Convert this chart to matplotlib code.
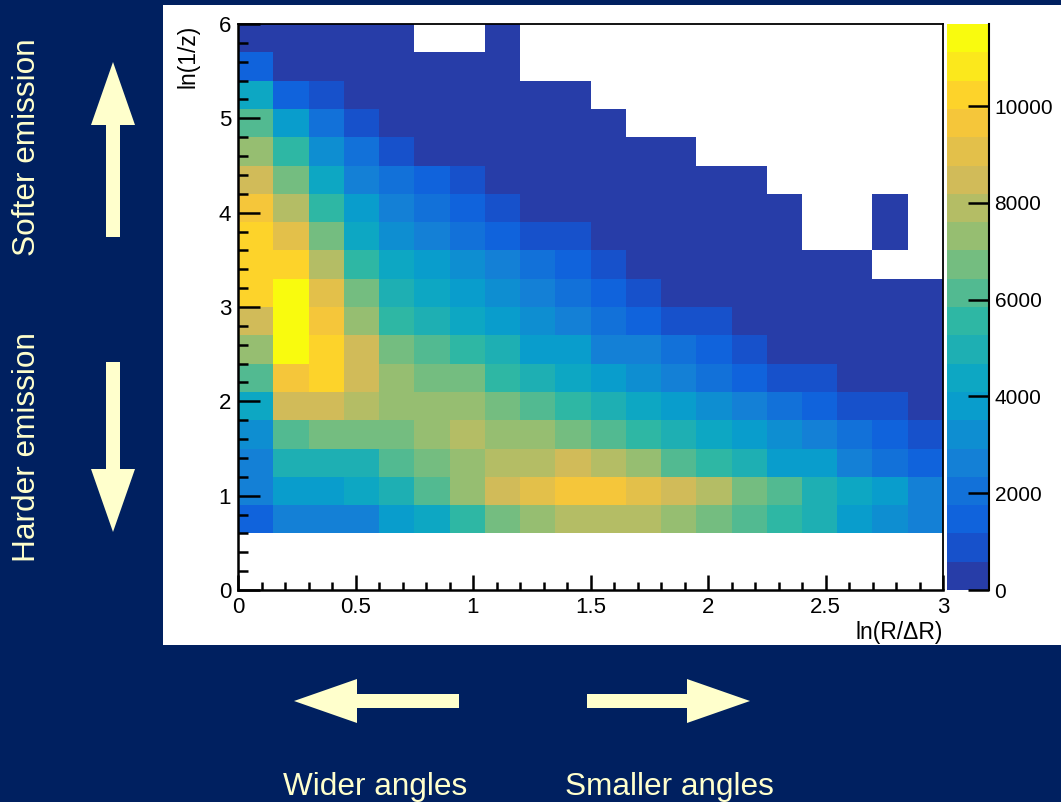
import numpy as np
import matplotlib
matplotlib.use("Agg")
import matplotlib.pyplot as plt
from matplotlib.colors import LinearSegmentedColormap, ListedColormap, Normalize
from matplotlib.patches import Rectangle, FancyArrow
from matplotlib.ticker import MultipleLocator, FuncFormatter

plt.rcParams['font.family'] = ['Liberation Sans', 'DejaVu Sans']

W, H = 1061, 802
NAVY = '#002060'
CREAM = '#FFFFCC'

# Lund plane histogram: ln(R/dR) in 20 bins on [0,3], ln(1/z) in 20 bins on [0,6]
x_range = (0.0, 3.0)
y_range = (0.0, 6.0)
n_bins = 20

# bin contents, one row per ln(1/z) bin from the bottom up (0 = empty bin)
counts = [
    [0] * 20,
    [0] * 20,
    [1420, 2580, 2690, 2610, 3760, 4420, 5510, 6780, 7350, 7870, 7930, 7840, 7260, 6690, 6170, 5590, 4930, 3840, 3180, 2660],
    [2570, 3830, 3760, 4360, 4990, 6110, 7290, 8510, 9040, 9610, 9700, 9110, 8440, 7920, 6750, 6120, 5010, 4410, 3790, 2620],
    [2640, 4950, 5020, 4940, 6180, 6700, 7330, 7880, 7950, 8460, 7890, 7280, 6150, 5530, 4980, 3820, 3760, 2600, 2030, 1470],
    [3190, 6150, 6720, 6760, 6690, 7300, 7920, 7340, 7280, 6740, 6100, 5580, 4960, 4400, 3810, 3230, 2640, 2050, 1450, 870],
    [4380, 8470, 8520, 7890, 7330, 7270, 7310, 6710, 6160, 5540, 4990, 4350, 3790, 3240, 2620, 2060, 1480, 880, 850, 310],
    [6130, 9620, 10260, 8450, 7290, 6760, 6700, 5570, 4960, 4420, 3770, 3210, 2640, 2040, 1450, 900, 860, 420, 260, 150],
    [7300, 11520, 10210, 8490, 6740, 6160, 5540, 4980, 3800, 3760, 2610, 2650, 2030, 1480, 870, 480, 300, 180, 110, 60],
    [8460, 11700, 9680, 7320, 5560, 4970, 4410, 3780, 3230, 2640, 2060, 1440, 890, 860, 420, 250, 160, 90, 50, 30],
    [10230, 11480, 9050, 6710, 4960, 4380, 3820, 3200, 2610, 2040, 1470, 880, 480, 330, 210, 130, 80, 40, 25, 10],
    [10250, 10190, 7900, 5550, 4400, 3790, 3210, 2650, 2050, 1460, 870, 460, 300, 190, 110, 60, 35, 20, 0, 0],
    [10220, 9060, 6720, 4390, 3230, 2620, 2060, 1450, 890, 860, 470, 280, 170, 100, 55, 30, 0, 0, 5, 0],
    [9640, 7900, 5560, 3800, 2630, 2040, 1460, 880, 450, 380, 230, 140, 80, 45, 25, 10, 0, 0, 5, 0],
    [8490, 6740, 4400, 2620, 2050, 1460, 870, 440, 300, 200, 120, 70, 40, 20, 10, 0, 0, 0, 0, 0],
    [7300, 5560, 3230, 2030, 870, 480, 320, 210, 130, 80, 45, 25, 10, 0, 0, 0, 0, 0, 0, 0],
    [6150, 3790, 2040, 880, 430, 290, 170, 110, 60, 35, 15, 0, 0, 0, 0, 0, 0, 0, 0, 0],
    [4370, 1450, 860, 420, 250, 150, 90, 55, 30, 15, 0, 0, 0, 0, 0, 0, 0, 0, 0, 0],
    [1470, 430, 250, 150, 90, 50, 30, 15, 0, 0, 0, 0, 0, 0, 0, 0, 0, 0, 0, 0],
    [310, 180, 100, 60, 30, 0, 0, 10, 0, 0, 0, 0, 0, 0, 0, 0, 0, 0, 0, 0],
]
cbar_ticks = [0, 2000, 4000, 6000, 8000, 10000]

# ROOT kBird palette, 255 colours, sampled into 20 contour levels
bird_stops = [0.0, 0.125, 0.25, 0.375, 0.5, 0.625, 0.75, 0.875, 1.0]
bird_r = [0.2082, 0.0592, 0.0780, 0.0232, 0.1802, 0.5301, 0.8186, 0.9956, 0.9764]
bird_g = [0.1664, 0.3599, 0.5041, 0.6419, 0.7178, 0.7492, 0.7328, 0.7862, 0.9832]
bird_b = [0.5293, 0.8684, 0.8385, 0.7914, 0.6425, 0.4662, 0.3499, 0.1968, 0.0539]
bird = LinearSegmentedColormap.from_list(
    'bird', list(zip(bird_stops, zip(bird_r, bird_g, bird_b))), N=255)
n_cont = 20
cmap = ListedColormap([bird(int((k + 0.99) * 255 / n_cont)) for k in range(n_cont)])


def fx(px):
    return px / W


def fy(py):
    return 1 - py / H


fig = plt.figure(figsize=(W / 100, H / 100), dpi=100, facecolor=NAVY)

# slide background: white panel, arrows and captions in pixel coordinates
bg = fig.add_axes([0, 0, 1, 1], zorder=-1)
bg.set_xlim(0, W)
bg.set_ylim(H, 0)
bg.axis('off')
bg.add_patch(Rectangle((163, 5), W - 163, 640, facecolor='white', edgecolor='none'))

arrow_kw = dict(width=14, head_width=44, head_length=63, length_includes_head=True,
                facecolor=CREAM, edgecolor='none')
bg.add_patch(FancyArrow(113, 237, 0, -175, **arrow_kw))
bg.add_patch(FancyArrow(113, 362, 0, 170, **arrow_kw))
bg.add_patch(FancyArrow(459, 701, -165, 0, **arrow_kw))
bg.add_patch(FancyArrow(587, 701, 163, 0, **arrow_kw))

txt_kw = dict(color=CREAM, fontsize=22.7)
bg.text(27, 147, 'Softer emission', rotation=90, ha='center', va='center', **txt_kw)
bg.text(27, 447, 'Harder emission', rotation=90, ha='center', va='center', **txt_kw)
bg.text(375, 795, 'Wider angles', ha='center', va='baseline', **txt_kw)
bg.text(669, 795, 'Smaller angles', ha='center', va='baseline', **txt_kw)

# the 2D histogram
ax = fig.add_axes([fx(238), fy(590), (943 - 238) / W, (590 - 24) / H])
xe = np.linspace(x_range[0], x_range[1], n_bins + 1)
ye = np.linspace(y_range[0], y_range[1], n_bins + 1)
z = np.ma.masked_equal(np.array(counts, dtype=float), 0)
zmax = z.max()
mesh = ax.pcolormesh(xe, ye, z, cmap=cmap, norm=Normalize(0, zmax),
                     edgecolors='none', antialiased=False)
ax.set_xlim(*x_range)
ax.set_ylim(*y_range)
ax.set_facecolor('white')

fmt = FuncFormatter(lambda v, p: '%g' % v)
ax.xaxis.set_major_locator(MultipleLocator(0.5))
ax.xaxis.set_minor_locator(MultipleLocator(0.1))
ax.yaxis.set_major_locator(MultipleLocator(1))
ax.yaxis.set_minor_locator(MultipleLocator(0.2))
ax.xaxis.set_major_formatter(fmt)
ax.yaxis.set_major_formatter(fmt)
ax.tick_params(which='both', direction='in', top=False, right=False,
               width=1.8, color='black', labelsize=16)
ax.tick_params(axis='x', which='major', length=11, pad=5)
ax.tick_params(axis='x', which='minor', length=5.5)
ax.tick_params(axis='y', which='major', length=15.5, pad=5)
ax.tick_params(axis='y', which='minor', length=7.5)
for side in ['left', 'bottom']:
    ax.spines[side].set_linewidth(1.8)
for side in ['top', 'right']:
    ax.spines[side].set_linewidth(1.3)

fig.text(fx(943), fy(632), 'ln(R/\u0394R)', ha='right', va='center', fontsize=16.5)
fig.text(fx(188), fy(25), 'ln(1/z)', rotation=90, ha='center', va='top', fontsize=16.5)

# palette axis
cax = fig.add_axes([fx(947), fy(590), (989 - 947) / W, (590 - 24) / H])
cb = fig.colorbar(mesh, cax=cax)
cb.outline.set_visible(False)
cb.set_ticks(cbar_ticks)
cb.minorticks_off()
cax.tick_params(direction='in', length=15, width=1.8, labelsize=15, pad=4)
cax.plot([1, 1], [0, 1], transform=cax.transAxes, color='black', lw=1.5, clip_on=False)

fig.savefig('out.png', dpi=100, facecolor=NAVY)
